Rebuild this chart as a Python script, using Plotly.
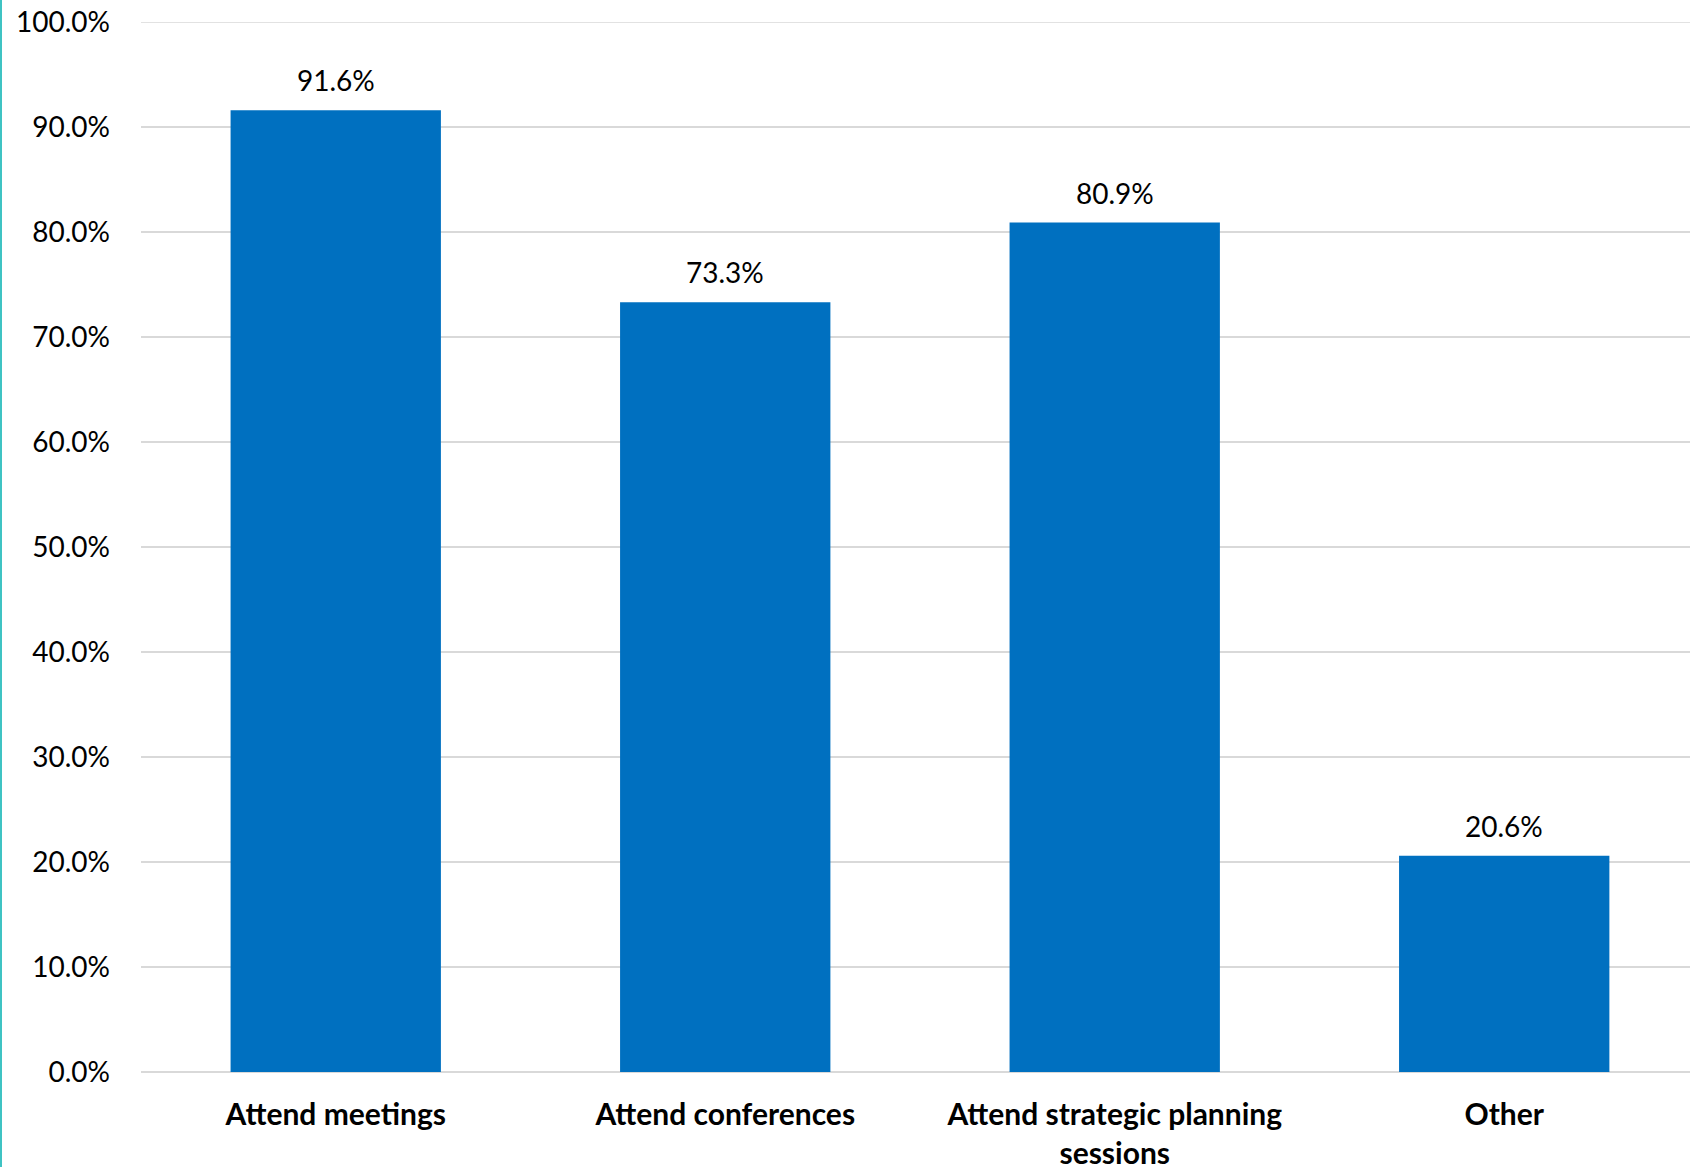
import plotly.graph_objects as go

categories = ["Attend meetings", "Attend conferences", "Attend strategic planning<br>sessions", "Other"]
values = [0.916, 0.733, 0.809, 0.206]
labels = ["91.6%", "73.3%", "80.9%", "20.6%"]

W, H = 1690, 1167
L, R, T, B = 141, 0, 22, 95
FONT = "Lato, 'Open Sans', sans-serif"

fig = go.Figure()
fig.add_trace(go.Bar(x=categories, y=values, marker=dict(color="#0070C0", line=dict(width=0)),
                     hoverinfo="skip"))

for c, v, t in zip(categories, values, labels):
    fig.add_annotation(x=c, y=v, text=t, showarrow=False, yanchor="bottom", yshift=11,
                       font=dict(family=FONT, size=28, color="#000000"))

pw = W - L - R
ph = H - T - B
fig.add_shape(type="line", xref="paper", yref="paper",
              x0=(1 - L) / pw, x1=(1 - L) / pw, y0=-(B) / ph, y1=(H - B) / ph,
              line=dict(color="#3fc3c3", width=2), layer="above")
fig.add_shape(type="line", xref="paper", yref="y", x0=0, x1=1, y0=1, y1=1,
              line=dict(color="#d9d9d9", width=1.5), layer="below")

fig.update_layout(
    width=W, height=H,
    margin=dict(l=L, r=R, t=T, b=B, autoexpand=False),
    plot_bgcolor="white", paper_bgcolor="white",
    bargap=0.46, showlegend=False,
    font=dict(family=FONT, size=28, color="#000000"),
)
fig.update_xaxes(type="category", range=[-0.5, 3.477], showgrid=False, showline=False,
                 ticks="", ticklabelstandoff=22, automargin=False, tickangle=0,
                 tickfont=dict(family=FONT, size=30, color="#000000", weight="bold"))
fig.update_yaxes(range=[0, 1], dtick=0.1, tickformat=".1%", showgrid=True,
                 gridcolor="#d9d9d9", gridwidth=1.5, zeroline=True, zerolinecolor="#d9d9d9",
                 zerolinewidth=2, showline=False, ticks="", ticklabelstandoff=30,
                 automargin=False, tickfont=dict(family=FONT, size=28, color="#000000"))

fig.write_html("out.html", config={"displayModeBar": False},
               post_script="document.body.style.margin='0px';document.body.style.padding='0px';")
